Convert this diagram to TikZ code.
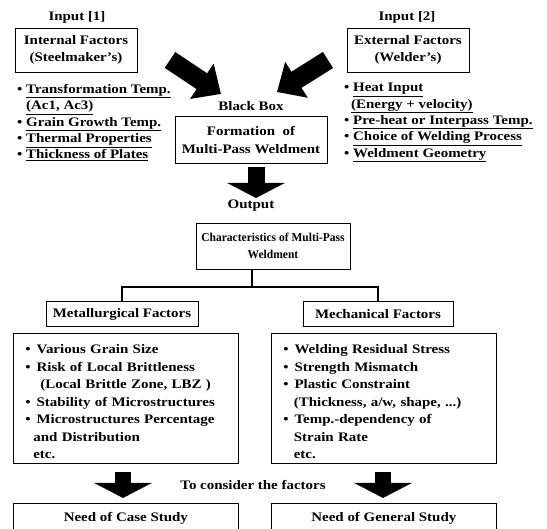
\documentclass[tikz,border=0pt]{standalone}
\usepackage{fontspec}
\setmainfont{Liberation Serif}[FakeStretch=1.15]
\newfontfamily\condensedserif{Liberation Serif}[FakeStretch=0.96]
\usetikzlibrary{arrows.meta}

\begin{document}
\begin{tikzpicture}[x=1pt,y=-1pt,
		every node/.style={font=\fontsize{13}{16.4}\selectfont\bfseries},
		box/.style={draw,line width=0.7pt,inner sep=0pt,align=center,
			font=\fontsize{13}{17.5}\selectfont\bfseries},
		toplist/.style={anchor=north west,align=left,inner sep=0pt},
		biglist/.style={box,anchor=north west,text width=201,inner xsep=12,
			inner ysep=0,minimum height=130,align=left},
		slantarrow/.style={line width=19pt,-{Triangle[width=41pt,length=23pt]}},
		downarrow/.style={line width=17pt,-{Triangle[width=57pt,length=15pt]}},
		tree/.style={line width=1.5pt}]
		\useasboundingbox (0,0) rectangle (547,529);

		\node (in1) at (77,17) {Input [1]};
		\node (in2) at (407,17) {Input [2]};
		\node[box,minimum width=122,minimum height=44] (internal) at (76,50)
			{Internal Factors\\(Steelmaker’s)};
		\node[box,minimum width=122,minimum height=44] (external) at (408,50)
			{External Factors\\(Welder’s)};

		\node[toplist] (inlist) at (17,84)
			{\textbullet\ \underline{Transformation Temp.}\\
			\hspace{9pt}\underline{(Ac1, Ac3)}\\
			\textbullet\ \underline{Grain Growth Temp.}\\
			\textbullet\ \underline{Thermal Properties}\\
			\textbullet\ \underline{Thickness of Plates}};
		\node[toplist] (exlist) at (344,83)
			{\textbullet\ \underline{Heat Input}\\
			\hspace{7pt}\underline{(Energy + velocity)}\\
			\textbullet\ \underline{Pre-heat or Interpass Temp.}\\
			\textbullet\ \underline{Choice of Welding Process}\\
			\textbullet\ \underline{Weldment Geometry}};

		\node (blackbox) at (251,106) {Black Box};
		\node[box,minimum width=152,minimum height=47] (formation) at (251,140)
			{Formation\ \ of\\Multi-Pass Weldment};

		\coordinate (ltail) at (170,60);
		\coordinate (ltip) at (221,94);
		\coordinate (rtail) at (328,60);
		\coordinate (rtip) at (277,92);
		\draw[slantarrow] (ltail) -- (ltip);
		\draw[slantarrow] (rtail) -- (rtip);

		\coordinate (mtail) at (256,167);
		\coordinate (mtip) at (256,198);
		\draw[downarrow] (mtail) -- (mtip);

		\node (output) at (251,206) {Output};
		\node[box,minimum width=154,minimum height=46,
			font=\fontsize{12}{17}\selectfont\condensedserif\bfseries] (charac)
			at (273,246) {Characteristics of Multi-Pass\\Weldment};

		\node[box,minimum width=152,minimum height=25] (metal) at (122,314)
			{Metallurgical Factors};
		\node[box,minimum width=150,minimum height=25] (mech) at (378,314)
			{Mechanical Factors};

		\coordinate (hub) at (252,287);
		\draw[tree] (hub |- charac.south) -- (hub);
		\draw[tree] (metal.north) |- (hub) -| (mech.north);

		\node[biglist] (metlist) at (13,333)
			{\rule{0pt}{16pt}\textbullet\hspace{6pt}Various Grain Size\\
			\textbullet\hspace{6pt}Risk of Local Brittleness\\
			\hspace{15pt}(Local Brittle Zone, LBZ )\\
			\textbullet\hspace{6pt}Stability of Microstructures\\
			\textbullet\hspace{6pt}Microstructures Percentage\\
			\hspace{8pt}and Distribution\\
			\hspace{8pt}etc.};
		\node[biglist] (mechlist) at (271,333)
			{\rule{0pt}{16pt}\textbullet\hspace{6pt}Welding Residual Stress\\
			\textbullet\hspace{6pt}Strength Mismatch\\
			\textbullet\hspace{6pt}Plastic Constraint\\
			\hspace{10.5pt}(Thickness, a/w, shape, ...)\\
			\textbullet\hspace{6pt}Temp.-dependency of\\
			\hspace{10.5pt}Strain Rate\\
			\hspace{10.5pt}etc.};

		\node (consider) at (253,485) {To consider the factors};
		\coordinate (atail) at (123,472);
		\coordinate (atip) at (123,498);
		\coordinate (btail) at (383,472);
		\coordinate (btip) at (383,498);
		\draw[downarrow,line width=16pt] (atail) -- (atip);
		\draw[downarrow,line width=16pt] (btail) -- (btip);

		\node[box,anchor=north west,minimum width=225,minimum height=30] (casestudy)
			at (13,503) {Need of Case Study};
		\node[box,anchor=north west,minimum width=225,minimum height=30] (genstudy)
			at (271,503) {Need of General Study};
	\end{tikzpicture}
\end{document}
